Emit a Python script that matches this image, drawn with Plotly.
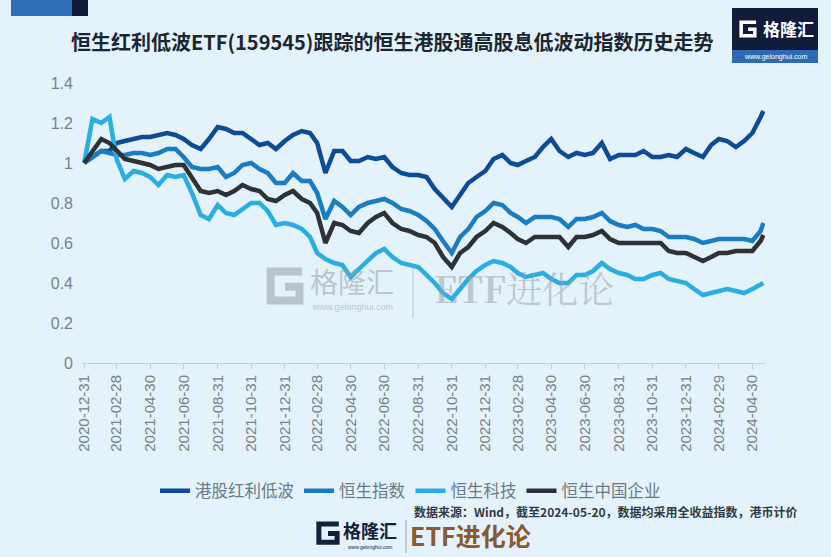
import plotly.graph_objects as go

# half-month sample dates
dates = [
    "2020-12-31", "2021-01-15", "2021-01-31", "2021-02-15", "2021-02-28", "2021-03-15", "2021-03-31",
    "2021-04-15", "2021-04-30", "2021-05-15", "2021-05-31", "2021-06-15", "2021-06-30", "2021-07-15",
    "2021-07-31", "2021-08-15", "2021-08-31", "2021-09-15", "2021-09-30", "2021-10-15", "2021-10-31",
    "2021-11-15", "2021-11-30", "2021-12-15", "2021-12-31", "2022-01-15", "2022-01-31", "2022-02-15",
    "2022-02-28", "2022-03-15", "2022-03-31", "2022-04-15", "2022-04-30", "2022-05-15", "2022-05-31",
    "2022-06-15", "2022-06-30", "2022-07-15", "2022-07-31", "2022-08-15", "2022-08-31", "2022-09-15",
    "2022-09-30", "2022-10-15", "2022-10-31", "2022-11-15", "2022-11-30", "2022-12-15", "2022-12-31",
    "2023-01-15", "2023-01-31", "2023-02-15", "2023-02-28", "2023-03-15", "2023-03-31", "2023-04-15",
    "2023-04-30", "2023-05-15", "2023-05-31", "2023-06-15", "2023-06-30", "2023-07-15", "2023-07-31",
    "2023-08-15", "2023-08-31", "2023-09-15", "2023-09-30", "2023-10-15", "2023-10-31", "2023-11-15",
    "2023-11-30", "2023-12-15", "2023-12-31", "2024-01-15", "2024-01-31", "2024-02-15", "2024-02-29",
    "2024-03-15", "2024-03-31", "2024-04-15", "2024-04-30", "2024-05-15", "2024-05-20",
]

hk_div_lowvol = [
    1.00, 1.03, 1.06, 1.06, 1.10, 1.11, 1.12, 1.13, 1.13, 1.14,
    1.15, 1.14, 1.12, 1.09, 1.07, 1.12, 1.18, 1.17, 1.15, 1.15,
    1.12, 1.09, 1.10, 1.07, 1.11, 1.14, 1.16, 1.15, 1.10, 0.95,
    1.06, 1.06, 1.01, 1.01, 1.03, 1.02, 1.03, 0.98, 0.95, 0.94,
    0.94, 0.93, 0.87, 0.83, 0.78, 0.84, 0.90, 0.93, 0.96, 1.02,
    1.04, 1.00, 0.99, 1.01, 1.03, 1.08, 1.12, 1.06, 1.03, 1.05,
    1.04, 1.05, 1.10, 1.02, 1.04, 1.04, 1.04, 1.06, 1.03, 1.03,
    1.04, 1.03, 1.07, 1.05, 1.03, 1.09, 1.12, 1.11, 1.08, 1.11,
    1.15, 1.23, 1.26,
]
hsi = [
    1.00, 1.03, 1.06, 1.05, 1.04, 1.04, 1.05, 1.05, 1.04, 1.05,
    1.07, 1.07, 1.03, 0.98, 0.97, 0.97, 0.98, 0.93, 0.95, 0.99,
    1.00, 0.97, 0.95, 0.90, 0.90, 0.95, 0.91, 0.91, 0.85, 0.72,
    0.81, 0.78, 0.74, 0.78, 0.80, 0.81, 0.82, 0.80, 0.77, 0.76,
    0.74, 0.71, 0.67, 0.61, 0.55, 0.63, 0.67, 0.73, 0.76, 0.80,
    0.79, 0.75, 0.73, 0.70, 0.73, 0.73, 0.73, 0.72, 0.68, 0.72,
    0.72, 0.73, 0.75, 0.71, 0.69, 0.68, 0.69, 0.67, 0.67, 0.66,
    0.63, 0.63, 0.63, 0.62, 0.60, 0.61, 0.62, 0.62, 0.62, 0.62,
    0.61, 0.66, 0.70,
]
hstech = [
    1.00, 1.22, 1.20, 1.23, 1.02, 0.92, 0.96, 0.95, 0.93, 0.89,
    0.94, 0.93, 0.94, 0.85, 0.74, 0.72, 0.79, 0.75, 0.74, 0.77,
    0.80, 0.80, 0.76, 0.69, 0.70, 0.69, 0.67, 0.63, 0.55, 0.52,
    0.50, 0.49, 0.43, 0.47, 0.51, 0.55, 0.57, 0.53, 0.50, 0.49,
    0.48, 0.44, 0.40, 0.35, 0.32, 0.37, 0.42, 0.46, 0.49, 0.51,
    0.50, 0.48, 0.45, 0.43, 0.44, 0.45, 0.42, 0.40, 0.40, 0.44,
    0.44, 0.46, 0.50, 0.47, 0.45, 0.44, 0.42, 0.42, 0.44, 0.45,
    0.42, 0.41, 0.40, 0.37, 0.34, 0.35, 0.36, 0.37, 0.36, 0.35,
    0.37, 0.39, 0.40,
]
hscei = [
    1.00, 1.06, 1.12, 1.10, 1.06, 1.02, 1.01, 1.00, 0.99, 0.97,
    0.98, 0.99, 0.99, 0.93, 0.86, 0.85, 0.86, 0.84, 0.86, 0.89,
    0.87, 0.86, 0.82, 0.81, 0.84, 0.86, 0.82, 0.80, 0.75, 0.60,
    0.70, 0.69, 0.66, 0.65, 0.70, 0.73, 0.75, 0.70, 0.67, 0.66,
    0.64, 0.63, 0.60, 0.53, 0.48, 0.55, 0.58, 0.63, 0.66, 0.70,
    0.68, 0.65, 0.62, 0.60, 0.63, 0.63, 0.63, 0.63, 0.58, 0.63,
    0.63, 0.64, 0.66, 0.62, 0.60, 0.60, 0.60, 0.60, 0.60, 0.60,
    0.56, 0.55, 0.55, 0.53, 0.51, 0.53, 0.55, 0.55, 0.56, 0.56,
    0.56, 0.61, 0.64,
]

series_names = ["港股红利低波", "恒生指数", "恒生科技", "恒生中国企业"]
series_colors = ["#0c4b95", "#1a7dc1", "#2aaee2", "#2e3236"]

tick_labels = [
    "2020-12-31", "2021-02-28", "2021-04-30", "2021-06-30", "2021-08-31", "2021-10-31",
    "2021-12-31", "2022-02-28", "2022-04-30", "2022-06-30", "2022-08-31", "2022-10-31",
    "2022-12-31", "2023-02-28", "2023-04-30", "2023-06-30", "2023-08-31", "2023-10-31",
    "2023-12-31", "2024-02-29", "2024-04-30",
]

title_text = "恒生红利低波ETF(159545)跟踪的恒生港股通高股息低波动指数历史走势"
source_text = "数据来源：Wind，截至2024-05-20，数据均采用全收益指数，港币计价"

BG = "#e3f2fb"
CJK = "Noto Sans CJK SC"
WM = "rgba(150,158,166,0.55)"

# plot area in pixels, used to place the decorations
L, R, T, B = 82, 765, 73, 363


def px(x):
    return (x - L) / (R - L)


def py(y):
    return (B - y) / (B - T)


def g_icon(x0, y0, s, color, w):
    # rough "G" logo as a stroked path
    pts = [(0.95, 0.12), (0.12, 0.12), (0.12, 0.88), (0.88, 0.88), (0.88, 0.52), (0.5, 0.52)]
    d = "M " + " L ".join(f"{px(x0 + a * s):.4f},{py(y0 + b * s):.4f}" for a, b in pts)
    return dict(type="path", xref="paper", yref="paper", path=d,
                line=dict(color=color, width=w), layer="above")


fig = go.Figure()
for name, vals, col in zip(series_names, [hk_div_lowvol, hsi, hstech, hscei], series_colors):
    fig.add_trace(go.Scatter(x=dates, y=vals, mode="lines", name=name,
                             line=dict(color=col, width=4.5)))

shapes = [
    # top-left ribbon
    dict(type="rect", xref="paper", yref="paper", x0=px(11), x1=px(72), y0=py(0), y1=py(16),
         fillcolor="#2f6eb8", line_width=0),
    dict(type="rect", xref="paper", yref="paper", x0=px(72), x1=px(88), y0=py(0), y1=py(16),
         fillcolor="#101b38", line_width=0),
    # top-right logo
    dict(type="rect", xref="paper", yref="paper", x0=px(732), x1=px(818), y0=py(8), y1=py(50),
         fillcolor="#111c3a", line_width=0),
    dict(type="rect", xref="paper", yref="paper", x0=px(732), x1=px(818), y0=py(50), y1=py(63),
         fillcolor="#2c6bb3", line_width=0),
    g_icon(739, 20, 18, "white", 3.5),
    # watermark
    g_icon(266, 267, 38, WM, 8),
    dict(type="line", xref="paper", yref="paper", x0=px(413), x1=px(413), y0=py(264), y1=py(318),
         line=dict(color="rgba(150,158,166,0.5)", width=1)),
    # bottom logo
    g_icon(316, 521, 24, "#15203d", 5),
    dict(type="line", xref="paper", yref="paper", x0=px(406), x1=px(406), y0=py(520), y1=py(553),
         line=dict(color="#9aa3ad", width=1)),
]

ann = [
    dict(text=f"<b>{title_text}</b>", x=px(392), y=py(42), font=dict(size=20, color="#1b2633", family=CJK)),
    dict(text="<b>格隆汇</b>", x=px(788), y=py(29), font=dict(size=17, color="white", family=CJK)),
    dict(text="www.gelonghui.com", x=px(775), y=py(57), font=dict(size=7, color="white", family="Liberation Sans")),
    dict(text="格隆汇", x=px(352), y=py(281), font=dict(size=28, color=WM, family=CJK)),
    dict(text="www.gelonghui.com", x=px(352), y=py(307), font=dict(size=9, color=WM, family="Liberation Sans")),
    dict(text="<b>ETF</b>进化论", x=px(524), y=py(287), font=dict(size=36, color="rgba(150,158,166,0.5)",
                                                             family="Noto Serif CJK SC, " + CJK)),
    dict(text=f"<b>{source_text}</b>", x=px(800), y=py(511), xanchor="right",
         font=dict(size=12, color="#333a42", family=CJK)),
    dict(text="<b>格隆汇</b>", x=px(370), y=py(530), font=dict(size=18, color="#15203d", family=CJK)),
    dict(text="www.gelonghui.com", x=px(370), y=py(547), font=dict(size=5, color="#15203d", family="Liberation Sans")),
    dict(text="<b>ETF进化论</b>", x=px(470), y=py(535), font=dict(size=25, color="#8a5a2e", family=CJK)),
]
for a in ann:
    a.setdefault("xanchor", "center")
    a.update(xref="paper", yref="paper", yanchor="middle", showarrow=False)

fig.update_layout(
    width=831, height=557, autosize=False,
    margin=dict(l=L, r=831 - R, t=T, b=557 - B),
    paper_bgcolor=BG, plot_bgcolor=BG,
    font=dict(family="Liberation Sans, Arial", color="#7a8189"),
    shapes=shapes, annotations=ann,
    legend=dict(orientation="h", x=px(155), y=py(491), xanchor="left", yanchor="middle",
                font=dict(size=16.5, color="#6c7a89", family=CJK), bgcolor="rgba(0,0,0,0)",
                itemwidth=30, tracegroupgap=0),
    xaxis=dict(type="date", range=["2020-12-27", "2024-05-23"], tickvals=tick_labels, ticktext=tick_labels,
               tickangle=-90, tickfont=dict(size=15, color="#7a8189"), showgrid=False, zeroline=False,
               showline=True, linecolor="#c6cdd4", linewidth=1, ticks="outside", ticklen=5,
               tickcolor="#c6cdd4"),
    yaxis=dict(range=[0, 1.45], tickvals=[0, 0.2, 0.4, 0.6, 0.8, 1.0, 1.2, 1.4],
               ticktext=["0", "0.2", "0.4", "0.6", "0.8", "1", "1.2", "1.4"],
               tickfont=dict(size=16, color="#7a8189"), showgrid=False, zeroline=False,
               showline=False, ticks="", ticklabelstandoff=8),
)

# drop the page's default body margin so the figure sits at the window's corner
fig.write_html("out.html", config={"displayModeBar": False},
               post_script="document.body.style.margin='0';document.body.style.background='%s';" % BG)
